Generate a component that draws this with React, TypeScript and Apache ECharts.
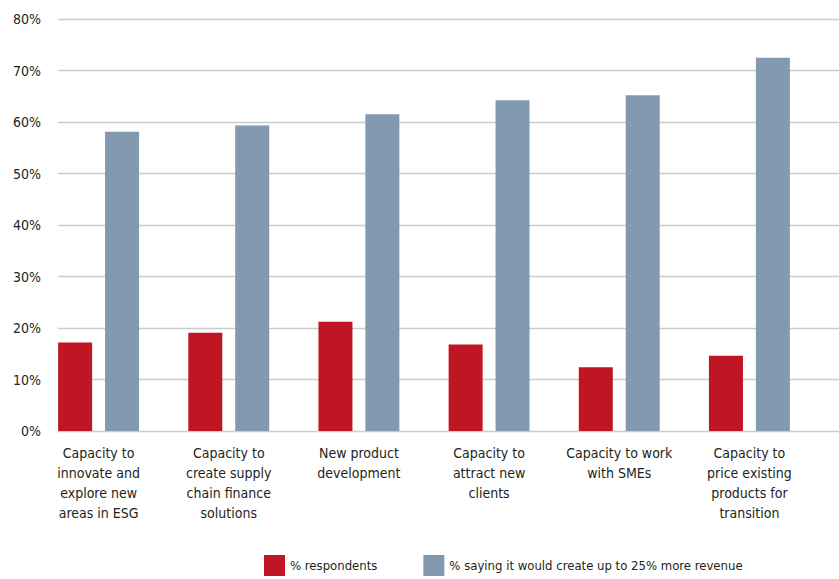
import React, { useEffect, useRef } from "react";
import * as echarts from "echarts";

const categories = [
  "Capacity to\ninnovate and\nexplore new\nareas in ESG",
  "Capacity to\ncreate supply\nchain finance\nsolutions",
  "New product\ndevelopment",
  "Capacity to\nattract new\nclients",
  "Capacity to work\nwith SMEs",
  "Capacity to\nprice existing\nproducts for\ntransition",
];
const respondents = [17.2, 19.1, 21.2, 16.8, 12.4, 14.6];
const moreRevenue = [58.1, 59.3, 61.5, 64.2, 65.2, 72.5];
const seriesNames = ["% respondents", "% saying it would create up to 25% more revenue"];

const FONT = "'DejaVu Sans Condensed', 'Liberation Sans', sans-serif";
const TEXT = "#231f20";

export default function App() {
  const ref = useRef<HTMLDivElement>(null);
  useEffect(() => {
    if (!ref.current) return;
    const chart = echarts.init(ref.current, undefined, { renderer: "svg" });
    chart.setOption({
      animation: false,
      backgroundColor: "#ffffff",
      textStyle: { fontFamily: FONT, color: TEXT },
      legend: {
        left: 264,
        top: 555,
        padding: 0,
        itemWidth: 21,
        itemHeight: 21,
        itemGap: 46,
        icon: "rect",
        textStyle: { fontFamily: FONT, fontSize: 13, color: TEXT },
        data: seriesNames,
      },
      grid: [
        { left: 58, right: 0, top: 19, bottom: 148 },
        { left: 33.5, right: 24.5, top: 19, bottom: 148 },
      ],
      xAxis: [
        { type: "category", gridIndex: 0, data: categories, show: false },
        {
          type: "category",
          gridIndex: 1,
          data: categories,
          axisLine: { show: false },
          axisTick: { show: false },
          axisLabel: {
            interval: 0,
            margin: 12,
            fontFamily: FONT,
            fontSize: 14,
            lineHeight: 20,
            color: TEXT,
            align: "center",
          },
        },
      ],
      yAxis: [
        {
          type: "value",
          gridIndex: 0,
          min: 0,
          max: 80,
          interval: 10,
          axisLine: { show: false },
          axisTick: { show: false },
          splitLine: { lineStyle: { color: "#cccccc", width: 1.3 } },
          axisLabel: {
            formatter: "{value}%",
            margin: 17,
            fontFamily: FONT,
            fontSize: 14,
            color: TEXT,
          },
        },
        {
          type: "value",
          gridIndex: 1,
          min: 0,
          max: 80,
          interval: 10,
          show: false,
          splitLine: { show: false },
        },
      ],
      series: [
        {
          name: seriesNames[0],
          type: "bar",
          xAxisIndex: 1,
          yAxisIndex: 1,
          data: respondents,
          barWidth: 34,
          barGap: "38%",
          itemStyle: { color: "#be1723" },
        },
        {
          name: seriesNames[1],
          type: "bar",
          xAxisIndex: 1,
          yAxisIndex: 1,
          data: moreRevenue,
          barWidth: 34,
          barGap: "38%",
          itemStyle: { color: "#8299b0" },
        },
      ],
    });
    return () => chart.dispose();
  }, []);
  return (
    <div
      ref={ref}
      style={{ position: "absolute", left: 0, top: 0, width: 839, height: 579 }}
    />
  );
}
